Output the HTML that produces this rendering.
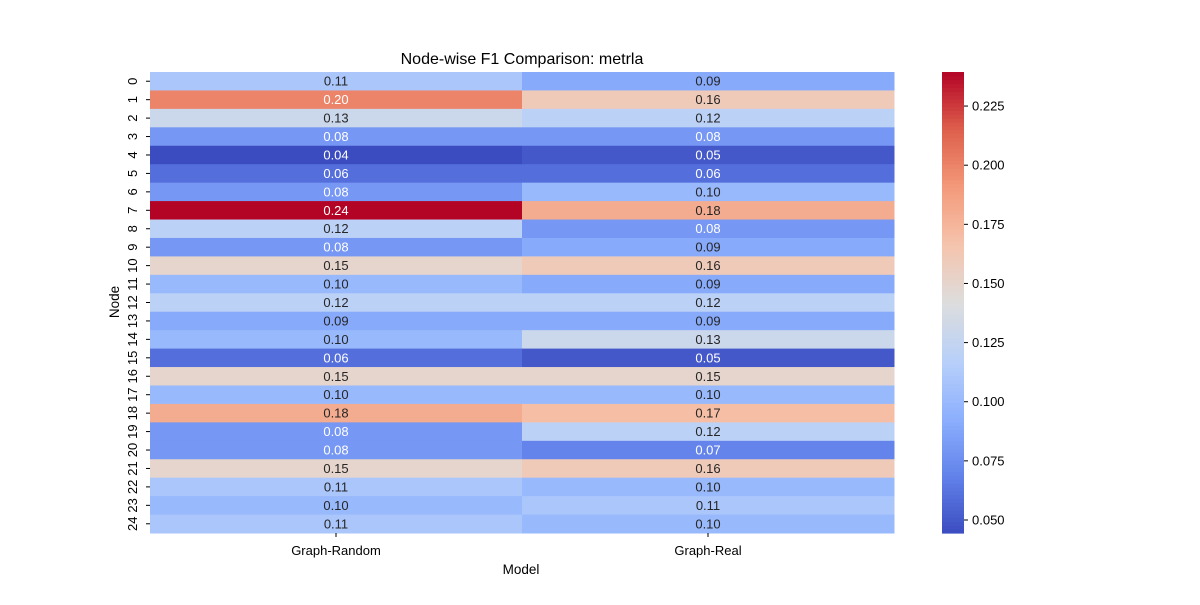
<!DOCTYPE html>
<html><head><meta charset="utf-8"><style>
body{margin:0;background:#fff;}
svg{font-family:"Liberation Sans","DejaVu Sans",sans-serif;}
</style></head><body>
<svg id="chart" width="1200" height="600">
<text x="522" y="64" font-size="16" text-anchor="middle">Node-wise F1 Comparison: metrla</text>
<text x="521" y="574" font-size="13.5" text-anchor="middle">Model</text>
<text transform="translate(119,302) rotate(-90)" font-size="13.5" text-anchor="middle">Node</text>
<g id="cells"></g>
<g id="cbar"></g>
</svg>
<script>
const models = ["Graph-Random","Graph-Real"];
const nodes = ["0","1","2","3","4","5","6","7","8","9","10","11","12","13","14","15","16","17","18","19","20","21","22","23","24"];
const randomVals = [0.11,0.20,0.13,0.08,0.04,0.06,0.08,0.24,0.12,0.08,0.15,0.10,0.12,0.09,0.10,0.06,0.15,0.10,0.18,0.08,0.08,0.15,0.11,0.10,0.11];
const realVals = [0.09,0.16,0.12,0.08,0.05,0.06,0.10,0.18,0.08,0.09,0.16,0.09,0.12,0.09,0.13,0.05,0.15,0.10,0.17,0.12,0.07,0.16,0.10,0.11,0.10];
const cbarTicks = [0.050,0.075,0.100,0.125,0.150,0.175,0.200,0.225];
const vmin = 0.0445, vmax = 0.2394;

const NS="http://www.w3.org/2000/svg";
const X0=150,X1=894,Y0=72,Y1=533;
const cw=(X1-X0)/models.length, ch=(Y1-Y0)/nodes.length;
const stops=[[59,76,192],[98,130,234],[141,176,254],[184,208,249],[221,221,221],[245,196,173],[244,154,123],[222,96,77],[180,4,38]];
function cmap(v){let t=(v-vmin)/(vmax-vmin);t=Math.max(0,Math.min(1,t));
 const p=t*8,i=Math.min(7,Math.floor(p)),f=p-i;
 return stops[i].map((c,k)=>Math.round(c+(stops[i+1][k]-c)*f));}
function lum(c){const l=c.map(x=>{x/=255;return x<=0.03928?x/12.92:Math.pow((x+0.055)/1.055,2.4);});return 0.2126*l[0]+0.7152*l[1]+0.0722*l[2];}
function mk(tag,attrs,parent){const e=document.createElementNS(NS,tag);for(const k in attrs)e.setAttribute(k,attrs[k]);parent.appendChild(e);return e;}
const g=document.getElementById('cells');
const series=[randomVals,realVals];
series.forEach((vals,j)=>{
 vals.forEach((v,i)=>{
  const c=cmap(v);
  const r=mk('rect',{x:X0+j*cw,y:Y0+i*ch,width:cw+0.5,height:ch+0.5,fill:`rgb(${c})`},g);
  
  
  const t=mk('text',{x:X0+(j+0.5)*cw,y:Y0+(i+0.5)*ch+4.5,'font-size':13,'text-anchor':'middle',fill:lum(c)<0.408?'#fff':'#262626'},g);
  t.textContent=v.toFixed(2);
  
  
 });
});
models.forEach((m,j)=>{
 const x=X0+(j+0.5)*cw;
 mk('line',{x1:x,x2:x,y1:Y1,y2:Y1+4,stroke:'#000'},g);
 const t=mk('text',{x:x,y:Y1+22,'font-size':13,'text-anchor':'middle'},g);
 t.textContent=m;
 
 
});
nodes.forEach((n,i)=>{
 const y=Y0+(i+0.5)*ch;
 mk('line',{x1:X0-4,x2:X0,y1:y,y2:y,stroke:'#000'},g);
 const t=mk('text',{transform:`translate(${X0-13},${y}) rotate(-90)`,'font-size':13,'text-anchor':'middle'},g);
 t.textContent=n;
 
 
});
const cb=document.getElementById('cbar');
const CX=942,CW=22,N=120;
for(let k=0;k<N;k++){
 const v=vmin+(vmax-vmin)*(k+0.5)/N;
 const h=(Y1-Y0)/N;
 const r=mk('rect',{x:CX,y:Y1-(k+1)*h,width:CW,height:h+0.6,fill:`rgb(${cmap(v)})`},cb);
 
 
}
cbarTicks.forEach(v=>{
 const y=Y1-(v-vmin)/(vmax-vmin)*(Y1-Y0);
 mk('line',{x1:CX+CW,x2:CX+CW+4,y1:y,y2:y,stroke:'#000'},cb);
 const t=mk('text',{x:CX+CW+8,y:y+4.5,'font-size':13},cb);
 t.textContent=v.toFixed(3);
 
 
});
</script>
</body></html>
